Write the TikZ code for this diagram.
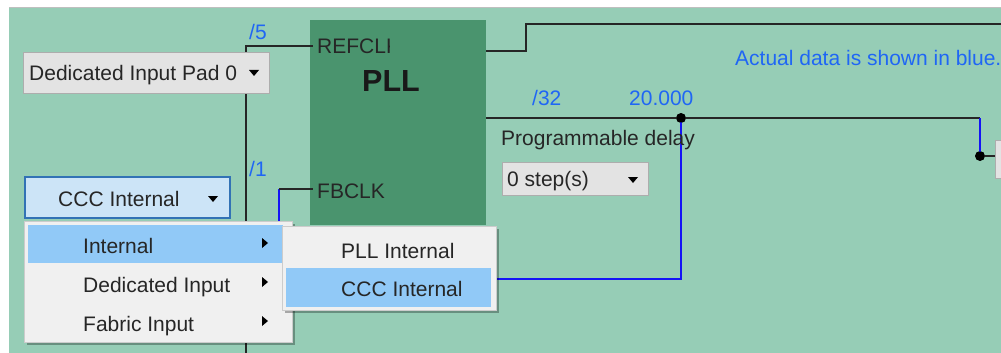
\documentclass[tikz,border=0pt]{standalone}
\usepackage{fontspec}
\setmainfont{Liberation Sans}
\usetikzlibrary{shadows}
\definecolor{bg}{HTML}{96CDB6}
\definecolor{pllgreen}{HTML}{4A946E}
\definecolor{datablue}{HTML}{1F66F5}
\definecolor{wireblue}{HTML}{1414F5}
\definecolor{menubg}{HTML}{F0F0F0}
\definecolor{menuhl}{HTML}{91C9F7}
\definecolor{ddgray}{HTML}{E3E3E3}
\definecolor{ddborder}{HTML}{ADADAD}
\definecolor{ccfill}{HTML}{CCE4F7}
\definecolor{ccborder}{HTML}{3272B5}
\tikzset{
  ui/.style={font=\fontsize{21}{24}\selectfont, inner sep=0pt, anchor=base west},
  lbl/.style={ui, text=black!85},
  blu/.style={ui, text=datablue},
  wire/.style={draw=black!85, line width=1.6pt},
  bwire/.style={draw=wireblue, line width=2pt},
  boxat/.style={anchor=north west, inner sep=0pt, outer sep=0pt},
  ddbox/.style={boxat, draw=ddborder, fill=ddgray, line width=1pt},
  ccbox/.style={boxat, draw=ccborder, fill=ccfill, line width=1.2pt},
  menubox/.style={boxat, draw=black!20, fill=menubg, line width=1pt,
    drop shadow={shadow xshift=3pt, shadow yshift=-3pt, fill=black, opacity=0.3}},
  hlbox/.style={boxat, fill=menuhl},
  dot/.style={circle, fill=black, inner sep=0pt, minimum size=10pt},
}
\newcommand{\ddarrow}[2]{\fill[black] (#1-5,#2-3) -- (#1+5,#2-3) -- (#1,#2+3) -- cycle;}
\newcommand{\subarrow}[2]{\fill[black] (#1-3,#2-5) -- (#1-3,#2+5) -- (#1+3,#2) -- cycle;}
\begin{document}
\begin{tikzpicture}[x=1pt, y=-1pt]
\useasboundingbox (0,0) rectangle (1001,353);
\fill[white] (0,0) rectangle (1001,353);
\fill[bg] (9,7) rectangle (1001,353);
\draw[black!25, line width=0.8pt] (9,7.4) -- (1001,7.4);

% PLL block
\node[boxat, fill=pllgreen, minimum width=176pt, minimum height=205pt] (pll) at (310,20) {};

% wires
\coordinate (busbot) at (246,353);
\coordinate (buscorner) at (246,46);
\coordinate (refin) at (313,46);
\draw[wire] (busbot) -- (buscorner) -- (refin);

\coordinate (fbcorner) at (279,189);
\coordinate (fbin) at (313,189);
\coordinate (fbbot) at (279,230);
\draw[bwire] (fbbot) -- (fbcorner);
\draw[wire] (fbcorner) -- (fbin);

\coordinate (refout) at (486,51);
\coordinate (step1) at (526,51);
\coordinate (step2) at (526,24);
\coordinate (topend) at (1001,24);
\draw[wire] (refout) -- (step1) -- (step2) -- (topend);

\coordinate (outstart) at (486,118);
\coordinate (outcorner) at (980,118);
\coordinate (rend) at (996,156);
\coordinate (fbturn) at (681,279);
\coordinate (fbleft) at (494,279);
\node[dot] (tap) at (681,118) {};
\node[dot] (rdot) at (980,156) {};
\draw[wire] (outstart) -- (tap.center) -- (outcorner);
\draw[bwire] (outcorner) -- (rdot.center);
\draw[wire] (rdot.center) -- (rend);
\draw[bwire] (tap.center) -- (fbturn) -- (fbleft);
\fill[black] (tap.center) circle (4.5pt);
\fill[black] (rdot.center) circle (4.5pt);

% right edge box
\node[ddbox, minimum width=12pt, minimum height=38pt] (rbox) at (995,140) {};

% PLL texts
\begin{scope}
  \clip (310,20) rectangle (389,60);
  \node[lbl] (refclk) at (317,53) {REFCLK};
\end{scope}
\node[font=\fontsize{30.5}{34}\selectfont\bfseries, inner sep=0pt, anchor=base, text=black!90] (plltitle) at (391,92) {PLL};
\node[lbl] (fbclk) at (317,198) {FBCLK};

% blue labels
\node[blu] (div5) at (249,40) {/5};
\node[blu] (div1) at (249,176) {/1};
\node[blu] (div32) at (532,105) {/32};
\node[blu] (freq) at (629,105) {20.000};
\node[blu] (note) at (735,66) {Actual data is shown in blue.};
\node[lbl] (pdelay) at (501,145) {Programmable delay};

% dropdowns
\node[ddbox, minimum width=246pt, minimum height=40pt] (padbox) at (23,53) {};
\node[lbl] (padtxt) at (29,81) {Dedicated Input Pad 0};
\ddarrow{254}{73}

\node[ccbox, minimum width=205pt, minimum height=41pt] (ccbox) at (25,177) {};
\node[lbl] (cctxt) at (58,206) {CCC Internal};
\ddarrow{213}{199}

\node[ddbox, minimum width=146pt, minimum height=33pt] (stepbox) at (502,162) {};
\node[lbl] (steptxt) at (507,186) {0 step(s)};
\ddarrow{633}{180}

% main menu
\node[menubox, minimum width=268pt, minimum height=121pt] (menu) at (24,221) {};
\node[hlbox, minimum width=255pt, minimum height=38pt] (menuhl) at (28,225) {};
\node[lbl] (m1) at (83,253) {Internal};
\node[lbl] (m2) at (83,292) {Dedicated Input};
\node[lbl] (m3) at (83,331) {Fabric Input};
\subarrow{265}{243}
\subarrow{265}{282}
\subarrow{265}{321}

% submenu
\node[menubox, minimum width=214pt, minimum height=84pt] (submenu) at (282,226) {};
\node[hlbox, minimum width=205pt, minimum height=39pt] (subhl) at (286,268) {};
\node[lbl] (s1) at (341,258) {PLL Internal};
\node[lbl] (s2) at (341,296) {CCC Internal};
\end{tikzpicture}
\end{document}
